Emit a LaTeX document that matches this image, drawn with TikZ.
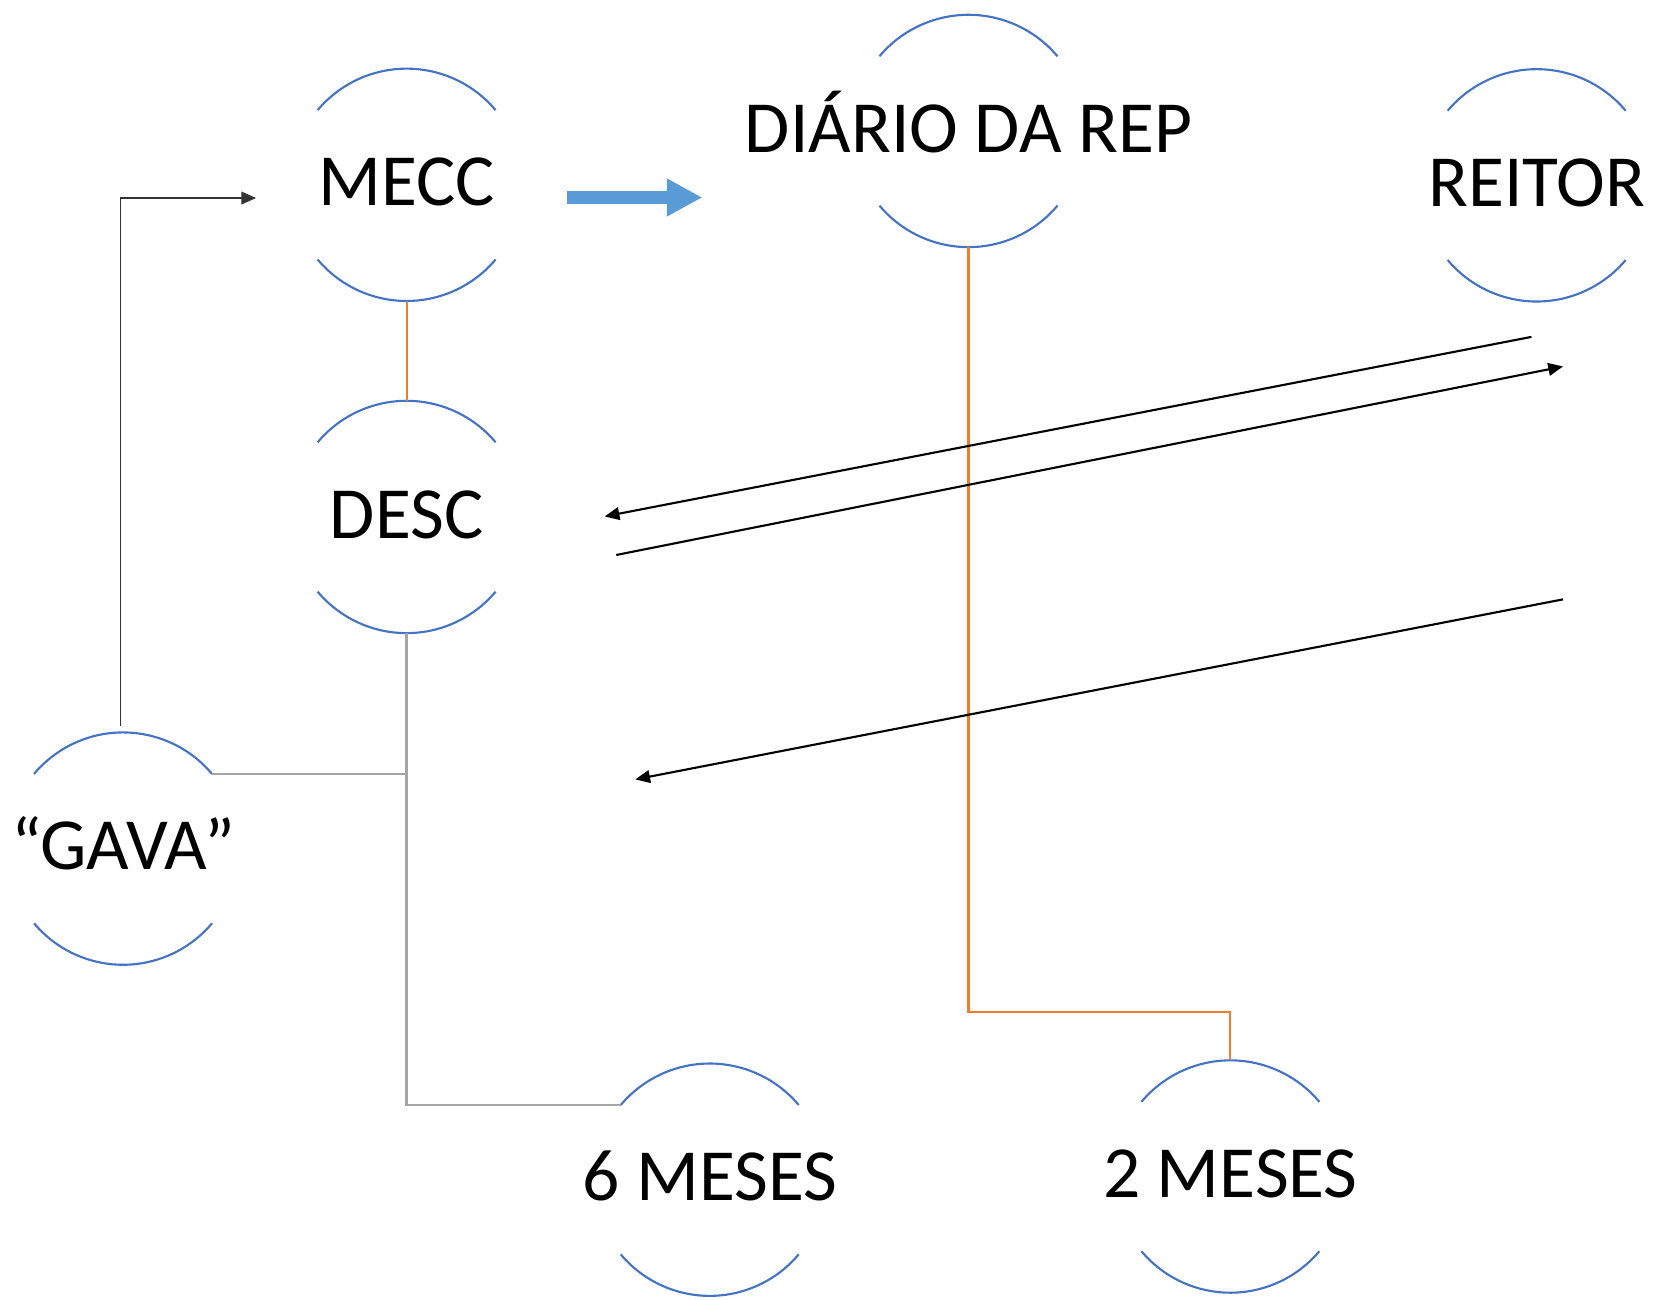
\documentclass[tikz,border=0pt]{standalone}
\usepackage{fontspec}
\setmainfont{Carlito}
\usetikzlibrary{arrows.meta}
\definecolor{ringblue}{HTML}{4472C4}
\definecolor{lineorange}{HTML}{ED7D31}
\definecolor{linegray}{HTML}{A5A5A5}
\definecolor{arrowblue}{HTML}{5B9BD5}
\newcommand\ringarcs[1]{%
  \draw[ringline] (#1.40) arc[start angle=40,end angle=140,radius=110pt];
  \draw[ringline] (#1.220) arc[start angle=220,end angle=320,radius=110pt];}
\begin{document}
\begin{tikzpicture}[x=1pt,y=-1pt,
  ring/.style={circle,minimum size=220pt,inner sep=0pt,outer sep=0pt},
  ringtext/.style={inner sep=0pt,font=\fontsize{69.6}{80}\selectfont,text height=44pt,text depth=4pt},
  ringline/.style={draw=ringblue,line width=2pt},
  orangeline/.style={draw=lineorange,line width=2pt},
  grayline/.style={draw=linegray,line width=2.5pt},
  blackline/.style={draw=black,line width=2pt},
  elbowline/.style={draw=black!80,line width=1.6pt},
  tip/.style={-{Triangle[length=14pt,width=12pt]}},
  blockarrow/.style={draw=arrowblue,line width=12pt,-{Triangle[length=33.5pt,width=33.5pt]}}
]
\useasboundingbox (0,0) rectangle (1568,1230);

\node[ring,label={[ringtext]center:MECC}] (mecc) at (385,175) {};
\node[ring,label={[ringtext]center:DESC}] (desc) at (385,489.5) {};
\node[ring,label={[ringtext]center:DIÁRIO DA REP}] (diario) at (917,124) {};
\node[ring,label={[ringtext]center:REITOR}] (reitor) at (1455,175.5) {};
\node[ring,label={[ringtext]center:“GAVA”}] (gava) at (116.5,803.5) {};
\node[ring,label={[ringtext]center:6 MESES}] (seis) at (672,1117) {};
\node[ring,label={[ringtext]center:2 MESES}] (dois) at (1165,1114) {};

\ringarcs{mecc}
\ringarcs{desc}
\ringarcs{diario}
\ringarcs{reitor}
\ringarcs{gava}
\ringarcs{seis}
\ringarcs{dois}

\coordinate (meccin) at (242.5,187.5);
\coordinate (bl1) at (537,187);
\coordinate (bl2) at (665,187);
\coordinate (a1) at (1450,319);
\coordinate (a2) at (572.5,489);
\coordinate (b1) at (583.5,525.5);
\coordinate (b2) at (1480,347);
\coordinate (c1) at (1480,567.5);
\coordinate (c2) at (601.5,738);

\draw[orangeline] (mecc.south) -- (desc.north);
\draw[orangeline] (diario.south) |- ([yshift=46pt]dois.north) -- (dois.north);
\draw[grayline] (desc.south) |- (seis.140);
\draw[grayline] (gava.40) -- (gava.40 -| desc.south);
\draw[elbowline,tip] ([xshift=-2.5pt,yshift=6.5pt]gava.north) |- (meccin);
\draw[blockarrow] (bl1) -- (bl2);
\draw[blackline,tip] (a1) -- (a2);
\draw[blackline,tip] (b1) -- (b2);
\draw[blackline,tip] (c1) -- (c2);
\end{tikzpicture}
\end{document}
